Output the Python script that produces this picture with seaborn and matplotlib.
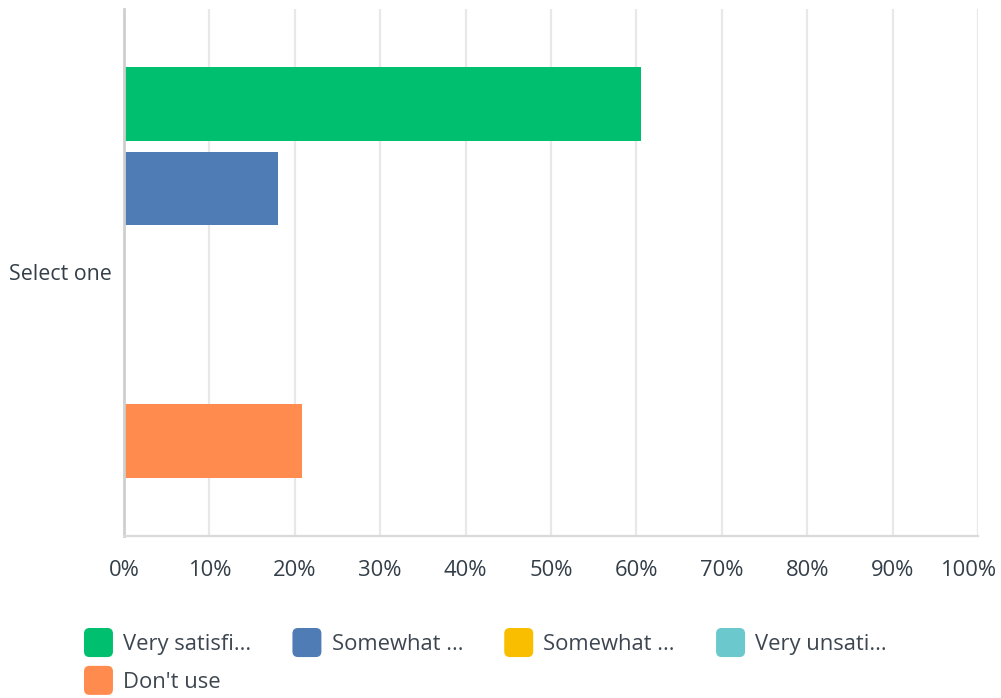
import matplotlib
matplotlib.use("Agg")
import matplotlib.pyplot as plt
import matplotlib.transforms as mtransforms
from matplotlib.patches import FancyBboxPatch, Patch
from matplotlib.legend_handler import HandlerPatch
import seaborn as sns
import pandas as pd

# Survey results (percent of respondents)
category = ["Select one"]
responses = ["Very satisfied", "Somewhat satisfied", "Somewhat unsatisfied",
             "Very unsatisfied", "Don't use"]
legend_labels = ["Very satisfi...", "Somewhat ...", "Somewhat ...",
                 "Very unsati...", "Don't use"]
percents = [60.5, 18.0, 0.0, 0.0, 20.9]
colors = ["#00bf6f", "#507cb6", "#f9be00", "#6bc8cd", "#ff8b4f"]
tick_values = [0, 10, 20, 30, 40, 50, 60, 70, 80, 90, 100]

df = pd.DataFrame({
    "category": category * len(responses),
    "response": responses,
    "percent": percents,
})

sns.set_theme(style="white")
plt.rcParams["font.family"] = ["Open Sans", "DejaVu Sans"]
text_color = "#333e48"
fs = 15.8

fig = plt.figure(figsize=(10.01, 6.98), dpi=100)
ax = fig.add_axes([124 / 1001, 1 - 536 / 698, (978 - 124) / 1001, (536 - 9) / 698])

sns.barplot(
    data=df, x="percent", y="category", hue="response", orient="h",
    hue_order=responses, palette=colors, width=0.8, gap=0.13,
    legend=False, ax=ax, saturation=1, linewidth=0,
)

ax.set_xlim(0, 100)
ax.set_xticks(tick_values)
ax.set_xticklabels([f"{v}%" for v in tick_values])
ax.set_xlabel("")
ax.set_ylabel("")
ax.xaxis.grid(True, color="#e8e8e8", linewidth=1.6)
ax.set_axisbelow(True)
ax.tick_params(axis="x", length=0, pad=17, labelsize=fs, labelcolor=text_color)
ax.tick_params(axis="y", length=0, pad=9, labelsize=15.4, labelcolor=text_color)

# keep the last percentage label inside the canvas
last = ax.get_xticklabels()[-1]
last.set_transform(last.get_transform() +
                   mtransforms.ScaledTranslation(-10 / 100, 0, fig.dpi_scale_trans))

for side in ("top", "right"):
    ax.spines[side].set_visible(False)
ax.spines["left"].set_color("#cfcfcf")
ax.spines["left"].set_linewidth(2)
ax.spines["bottom"].set_color("#dadada")
ax.spines["bottom"].set_linewidth(1.6)


class RoundedSquare(HandlerPatch):
    def create_artists(self, legend, orig_handle, xdescent, ydescent,
                       width, height, fontsize, trans):
        box = FancyBboxPatch(
            (-xdescent, -ydescent), width, height,
            boxstyle="round,pad=0,rounding_size=4",
            facecolor=orig_handle.get_facecolor(), edgecolor="none",
            transform=trans,
        )
        return [box]


handles = [Patch(facecolor=c) for c in colors]
# legend columns fill top-to-bottom, so order entries to read row by row
order = [0, 4, 1, 2, 3]
leg = fig.legend(
    handles=[handles[i] for i in order],
    labels=[legend_labels[i] for i in order], ncol=4,
    loc="upper left", bbox_to_anchor=(84 / 1001, 1 - 628 / 698),
    frameon=False, fontsize=fs, borderpad=0, borderaxespad=0,
    handlelength=1.32, handleheight=1.66, handletextpad=0.46,
    columnspacing=1.88, labelspacing=0.4,
    handler_map={Patch: RoundedSquare()},
)
for t in leg.get_texts():
    t.set_color("#3d4650")

fig.savefig("out.png", dpi=100)
